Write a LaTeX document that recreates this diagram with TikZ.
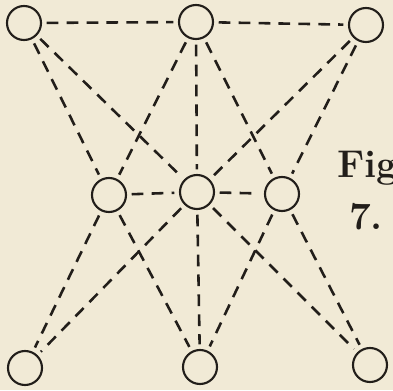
\documentclass[tikz,border=0pt]{standalone}
\usetikzlibrary{positioning}
\definecolor{paper}{RGB}{241,234,214}
\definecolor{ink}{RGB}{34,30,26}
\begin{document}
\begin{tikzpicture}[x=0.03cm, y=-0.03cm,
    spot/.style={circle, draw=ink, line width=1.8pt, minimum size=1.02cm, inner sep=0pt},
    row/.style={ink, line width=2.2pt, dash pattern=on 10pt off 7pt, shorten <=4pt, shorten >=4pt},
    caption/.style={font=\fontsize{33}{38}\selectfont\bfseries, text=ink, inner sep=0pt}
  ]
  \fill[paper] (0,0) rectangle (393,390);
  \useasboundingbox (0,0) rectangle (393,390);

  % the nine spots
  \node[spot] (tl) at (24,23) {};
  \node[spot] (tm) at (196,22) {};
  \node[spot] (tr) at (366,25) {};
  \node[spot] (ml) at (109,195) {};
  \node[spot] (mm) at (197,192) {};
  \node[spot] (mr) at (282,194) {};
  \node[spot] (bl) at (25,368) {};
  \node[spot] (bm) at (200,367) {};
  \node[spot] (br) at (370,365) {};

  % rows of three
  \foreach \a/\b in {tl/tm, tm/tr, ml/mm, mm/mr, tl/mm, mm/br, tr/mm, mm/bl,
      tm/mm, mm/bm, tl/ml, ml/bm, tr/mr, mr/bm, tm/ml, ml/bl, tm/mr, mr/br}
    \draw[row] (\a) -- (\b);

  \node[caption, anchor=base west] (fig) at (337,177) {Fig};
  \node[caption, anchor=base] (num) at (366,229) {7.};
\end{tikzpicture}
\end{document}
